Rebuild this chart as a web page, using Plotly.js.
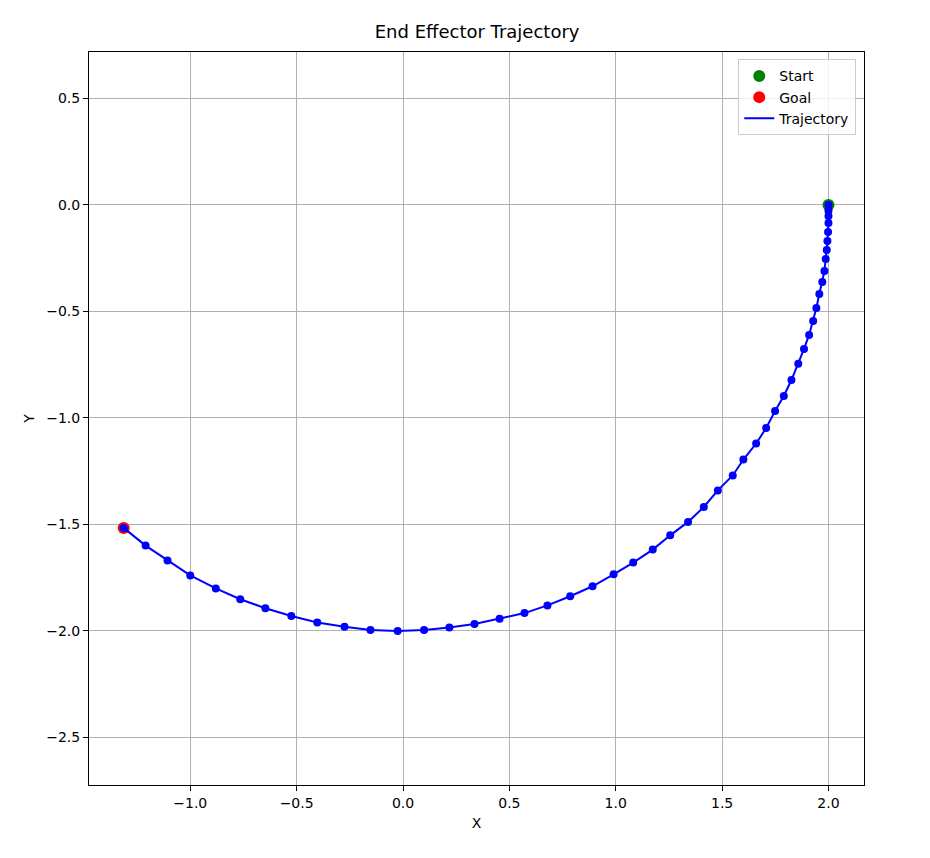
<!DOCTYPE html>
<html>
<head>
<script src="https://cdn.plot.ly/plotly-3.0.1.min.js"></script>
<style>body{margin:0;background:#fff;}</style>
</head>
<body>
<div id="plot" style="width:930px;height:858px;"></div>
<script>
// trajectory, start -> goal
let trajX = [2.0, 2.0, 2.0, 2.0, 1.998, 1.995, 1.992, 1.987, 1.981, 1.971, 1.957, 1.943, 1.928, 1.909,
    1.885, 1.858, 1.826, 1.790, 1.749, 1.707, 1.66, 1.60, 1.55, 1.48, 1.414, 1.340, 1.256, 1.174,
    1.082, 0.990, 0.891, 0.786, 0.679, 0.571, 0.454, 0.336, 0.218, 0.099, -0.025, -0.153, -0.275,
    -0.403, -0.525, -0.647, -0.765, -0.880, -1.0, -1.107, -1.210, -1.313];
let trajY = [0.0, -0.027, -0.052, -0.085, -0.127, -0.169, -0.211, -0.254, -0.31, -0.362, -0.418, -0.484,
    -0.545, -0.61, -0.676, -0.746, -0.822, -0.897, -0.967, -1.047, -1.12, -1.195, -1.27, -1.34, -1.418,
    -1.488, -1.551, -1.618, -1.679, -1.734, -1.790, -1.837, -1.880, -1.916, -1.942, -1.967, -1.984,
    -1.995, -2.0, -1.995, -1.980, -1.960, -1.930, -1.893, -1.851, -1.800, -1.739, -1.669, -1.599, -1.516];
let startPt = [2.0, 0.0];
let goalPt = [-1.313, -1.516];

let font = {family: 'DejaVu Sans, sans-serif', size: 14, color: '#000'};

let data = [
    {x: [startPt[0]], y: [startPt[1]], mode: 'markers', name: 'Start',
        marker: {color: 'green', size: 12}},
    {x: [goalPt[0]], y: [goalPt[1]], mode: 'markers', name: 'Goal',
        marker: {color: 'red', size: 12}},
    {x: trajX, y: trajY, mode: 'lines', name: 'Trajectory',
        line: {color: 'blue', width: 2}},
    {x: trajX, y: trajY, mode: 'markers', showlegend: false,
        marker: {color: 'blue', size: 8}}
];

let axis = {
    showgrid: true, gridcolor: '#b0b0b0', gridwidth: 1,
    zeroline: false, showline: true, mirror: true, linecolor: '#000', linewidth: 1,
    ticks: 'outside', ticklen: 5, tickcolor: '#000', tickfont: font
};

let layout = {
    width: 930, height: 858,
    margin: {l: 89, r: 66, t: 52, b: 73},
    paper_bgcolor: '#fff', plot_bgcolor: '#fff',
    font: font,
    title: {text: 'End Effector Trajectory', font: {family: 'DejaVu Sans, sans-serif', size: 18},
        x: 0.513, xanchor: 'center', y: 0.97},
    xaxis: Object.assign({}, axis, {range: [-1.476, 2.167], dtick: 0.5, tickformat: '.1f',
        title: {text: 'X', font: font, standoff: 8}}),
    yaxis: Object.assign({}, axis, {range: [-2.723, 0.718], dtick: 0.5, tickformat: '.1f',
        title: {text: 'Y', font: font, standoff: 8}}),
    legend: {x: 0.99, y: 0.99, xanchor: 'right', yanchor: 'top', bgcolor: 'rgba(255,255,255,0.8)',
        bordercolor: '#ccc', borderwidth: 1, font: font}
};

Plotly.newPlot('plot', data, layout, {displayModeBar: false});
</script>
</body>
</html>
